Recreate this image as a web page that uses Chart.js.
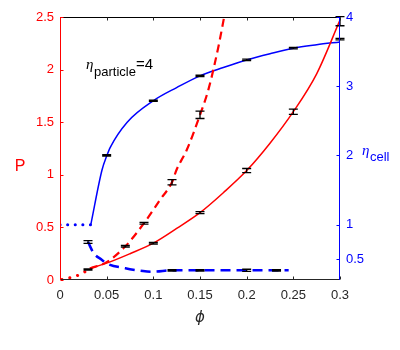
<!DOCTYPE html>
<html>
<head>
<meta charset="utf-8">
<script src="https://cdn.jsdelivr.net/npm/chart.js@4.4.1/dist/chart.umd.min.js"></script>
<style>
html,body{margin:0;padding:0;background:#fff;}
#wrap{width:400px;height:350px;position:relative;}
</style>
</head>
<body>
<div id="wrap"><canvas id="c" width="400" height="350"></canvas></div>
<script>
// ---- tick labels ----
const xTicks = [0, 0.05, 0.1, 0.15, 0.2, 0.25, 0.3];
const pTicks = [0, 0.5, 1, 1.5, 2, 2.5];
const etaTicks = [0.5, 1, 2, 3, 4];

// ---- P (left axis), red ----
const redSolidPhi = [0.032, 0.05, 0.075, 0.1, 0.125, 0.15, 0.175, 0.2, 0.225, 0.25, 0.275, 0.3];
const redSolidP   = [0.11, 0.16, 0.25, 0.35, 0.49, 0.64, 0.83, 1.04, 1.3, 1.6, 1.96, 2.47];
const redDashPhi  = [0.032, 0.05, 0.07, 0.09, 0.107, 0.12, 0.125, 0.136, 0.15, 0.159, 0.17, 0.18];
const redDashP    = [0.11, 0.17, 0.32, 0.54, 0.76, 0.93, 1.05, 1.24, 1.57, 1.81, 2.23, 2.7];
const redDotPhi   = [0.002, 0.01, 0.018, 0.027, 0.032];
const redDotP     = [0.005, 0.02, 0.04, 0.08, 0.11];

// ---- eta_cell (right axis), blue ----
const blueSolidPhi = [0.033, 0.045, 0.05, 0.054, 0.072, 0.1, 0.125, 0.15, 0.175, 0.2, 0.225, 0.25, 0.275, 0.3];
const blueSolidEta = [1.0, 1.79, 1.99, 2.12, 2.48, 2.79, 2.98, 3.15, 3.27, 3.38, 3.47, 3.55, 3.6, 3.64];
const blueDotPhi   = [0, 0.033];
const blueDotEta   = [1.0, 1.0];
const blueDashPhi  = [0.03, 0.036, 0.045, 0.05, 0.07, 0.089, 0.1, 0.12, 0.15, 0.2, 0.245];
const blueDashEta  = [0.75, 0.59, 0.49, 0.44, 0.37, 0.33, 0.32, 0.34, 0.34, 0.34, 0.34];

// ---- error bars (black) ----
const barRedSolidPhi = [0.03, 0.1, 0.15, 0.2, 0.25, 0.3];
const barRedSolidP   = [0.1, 0.35, 0.64, 1.04, 1.6, 2.46];
const barRedSolidErr = [0.005, 0.008, 0.01, 0.02, 0.025, 0.043];
const barRedDashPhi  = [0.07, 0.09, 0.12, 0.15];
const barRedDashP    = [0.32, 0.54, 0.93, 1.57];
const barRedDashErr  = [0.008, 0.008, 0.025, 0.035];
const barBlueSolidPhi = [0.05, 0.1, 0.15, 0.2, 0.25, 0.3];
const barBlueSolidEta = [2.0, 2.79, 3.15, 3.38, 3.55, 3.68];
const barBlueSolidErr = [0.01, 0.01, 0.01, 0.01, 0.01, 0.01];
const barBlueDashPhi  = [0.03, 0.12, 0.15, 0.2, 0.232];
const barBlueDashEta  = [0.75, 0.34, 0.34, 0.34, 0.34];
const barBlueDashErr  = [0.02, 0.01, 0.01, 0.015, 0.01];

const RED = '#ff0000', BLUE = '#0000ff', GRAY = '#262626';
const FONT = "'Liberation Sans', Arial, sans-serif";

const pts = (xs, ys) => xs.map((x, i) => ({x, y: ys[i]}));

const errorBars = {
  id: 'errorBars',
  afterDatasetsDraw(chart) {
    const {ctx, scales} = chart;
    const groups = [
      [barRedSolidPhi, barRedSolidP, barRedSolidErr, 'y'],
      [barRedDashPhi, barRedDashP, barRedDashErr, 'y'],
      [barBlueSolidPhi, barBlueSolidEta, barBlueSolidErr, 'y2'],
      [barBlueDashPhi, barBlueDashEta, barBlueDashErr, 'y2']
    ];
    ctx.save();
    ctx.strokeStyle = '#000';
    ctx.lineWidth = 1.3;
    const half = 4.5;
    groups.forEach(([xs, ys, es, ax]) => {
      xs.forEach((x, i) => {
        const px = scales.x.getPixelForValue(x);
        const y1 = scales[ax].getPixelForValue(ys[i] + es[i]);
        const y2 = scales[ax].getPixelForValue(ys[i] - es[i]);
        ctx.beginPath();
        ctx.moveTo(px, y1); ctx.lineTo(px, y2);
        ctx.moveTo(px - half, y1); ctx.lineTo(px + half, y1);
        ctx.moveTo(px - half, y2); ctx.lineTo(px + half, y2);
        ctx.stroke();
      });
    });
    ctx.restore();
  }
};

const frame = {
  id: 'frame',
  afterDraw(chart) {
    const {ctx, chartArea: a, scales} = chart;
    ctx.save();
    ctx.lineWidth = 1;
    const L = Math.round(a.left) + 0.5, R = Math.round(a.right) - 0.5;
    const T = Math.round(a.top) + 0.5, B = Math.round(a.bottom) - 0.5;
    ctx.strokeStyle = '#000';
    ctx.beginPath(); ctx.moveTo(L, T); ctx.lineTo(R, T); ctx.stroke();
    ctx.strokeStyle = GRAY;
    ctx.beginPath(); ctx.moveTo(L, B); ctx.lineTo(R, B); ctx.stroke();
    xTicks.forEach(v => {
      const px = Math.round(scales.x.getPixelForValue(v)) + 0.5;
      ctx.beginPath(); ctx.moveTo(px, B); ctx.lineTo(px, B - 3); ctx.stroke();
      ctx.beginPath(); ctx.moveTo(px, T); ctx.lineTo(px, T + 3); ctx.stroke();
    });
    ctx.strokeStyle = RED;
    ctx.beginPath(); ctx.moveTo(L, T - 0.5); ctx.lineTo(L, B + 0.5); ctx.stroke();
    pTicks.forEach(v => {
      const py = Math.round(scales.y.getPixelForValue(v)) + 0.5;
      ctx.beginPath(); ctx.moveTo(L, py); ctx.lineTo(L + 3, py); ctx.stroke();
    });
    ctx.strokeStyle = BLUE;
    ctx.beginPath(); ctx.moveTo(R, T - 0.5); ctx.lineTo(R, B + 0.5); ctx.stroke();
    etaTicks.forEach(v => {
      const py = Math.round(scales.y2.getPixelForValue(v)) + 0.5;
      ctx.beginPath(); ctx.moveTo(R, py); ctx.lineTo(R - 3, py); ctx.stroke();
    });

    ctx.textBaseline = 'alphabetic';
    ctx.fillStyle = RED;
    ctx.font = '16px ' + FONT;
    ctx.textAlign = 'center';
    ctx.fillText('P', 20, 171);

    ctx.fillStyle = GRAY;
    ctx.font = "italic 15px 'DejaVu Sans', sans-serif";
    ctx.fillText('\u03d5', 200, 322);

    ctx.textAlign = 'left';
    ctx.fillStyle = BLUE;
    ctx.font = "italic 15px 'Liberation Serif', serif";
    ctx.fillText('\u03b7', 362, 155);
    ctx.font = '13px ' + FONT;
    ctx.fillText('cell', 370, 161);

    ctx.fillStyle = '#000';
    ctx.font = "italic 15px 'Liberation Serif', serif";
    ctx.fillText('\u03b7', 86, 69);
    ctx.font = '13px ' + FONT;
    ctx.fillText('particle', 94, 76);
    ctx.font = '15px ' + FONT;
    ctx.fillText('=4', 136, 69);
    ctx.restore();
  }
};

const lineDs = (xs, ys, color, axis, width, dash, cap) => ({
  data: pts(xs, ys),
  yAxisID: axis,
  borderColor: color,
  borderWidth: width,
  borderDash: dash || [],
  borderCapStyle: cap || 'butt',
  pointRadius: 0,
  fill: false,
  cubicInterpolationMode: 'monotone',
  tension: 0.4
});

new Chart(document.getElementById('c'), {
  type: 'line',
  data: {
    datasets: [
      lineDs(redSolidPhi, redSolidP, RED, 'y', 1.5),
      lineDs(redDashPhi, redDashP, RED, 'y', 2.2, [8, 5]),
      lineDs(redDotPhi, redDotP, RED, 'y', 3, [0.1, 8], 'round'),
      lineDs(blueSolidPhi, blueSolidEta, BLUE, 'y2', 1.5),
      lineDs(blueDotPhi, blueDotEta, BLUE, 'y2', 3, [0.1, 7.5], 'round'),
      lineDs(blueDashPhi, blueDashEta, BLUE, 'y2', 2.5, [10, 6])
    ]
  },
  options: {
    responsive: false,
    animation: false,
    events: [],
    layout: {padding: {top: 17, left: 0, right: 0, bottom: 0}},
    plugins: {legend: {display: false}, tooltip: {enabled: false}},
    scales: {
      x: {
        type: 'linear', min: 0, max: 0.3,
        afterBuildTicks: s => { s.ticks = xTicks.map(v => ({value: v})); },
        afterFit: s => { s.height = 70; },
        grid: {display: false, drawTicks: false},
        border: {display: false},
        ticks: {color: GRAY, font: {family: FONT, size: 13}, padding: 8, maxRotation: 0,
                callback: v => String(v)}
      },
      y: {
        type: 'linear', position: 'left', min: 0, max: 2.5,
        afterBuildTicks: s => { s.ticks = pTicks.map(v => ({value: v})); },
        afterFit: s => { s.width = 60; },
        grid: {display: false, drawTicks: false},
        border: {display: false},
        ticks: {color: RED, font: {family: FONT, size: 13}, padding: 6,
                callback: v => String(v)}
      },
      y2: {
        type: 'linear', position: 'right', min: 0.2, max: 4,
        afterBuildTicks: s => { s.ticks = etaTicks.map(v => ({value: v})); },
        afterFit: s => { s.width = 60; },
        grid: {display: false, drawTicks: false},
        border: {display: false},
        ticks: {color: BLUE, font: {family: FONT, size: 13}, padding: 6,
                callback: v => String(v)}
      }
    }
  },
  plugins: [errorBars, frame]
});
</script>
</body>
</html>
